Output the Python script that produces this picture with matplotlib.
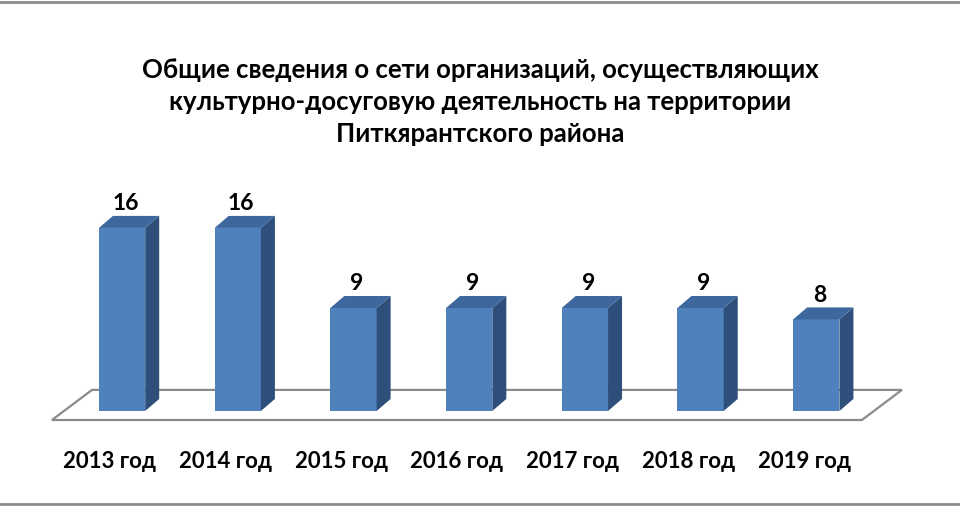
import matplotlib
matplotlib.use("Agg")
import matplotlib.pyplot as plt
from matplotlib.patches import Polygon
from matplotlib.lines import Line2D

years = ["2013 год", "2014 год", "2015 год", "2016 год", "2017 год", "2018 год", "2019 год"]
counts = [16, 16, 9, 9, 9, 9, 8]
title = ("Общие сведения о сети организаций, осуществляющих\n"
         "культурно-досуговую деятельность на территории\n"
         "Питкярантского района")

plt.rcParams['font.family'] = ['Lato', 'DejaVu Sans']

front_c = "#4F81BD"
top_c = "#3D679D"
side_c = "#2E4F7A"

# pseudo-3D geometry (in data units)
bar_off = 0.406      # bar front-left inside slot
bar_w = 0.40
dx, dy = 0.121, 1.05  # bar depth
floor_front, floor_back, floor_shift = -0.79, 1.84, 0.346

fig = plt.figure(figsize=(9.6, 5.1), dpi=100)
ax = fig.add_axes([0, 0, 1, 1])
ax.set_xlim(-0.449, 7.848)
ax.set_ylim(-8.57, 36.01)
ax.axis("off")

n = len(counts)
floor = Polygon([(0, floor_front), (n, floor_front),
                 (n + floor_shift, floor_back), (floor_shift, floor_back)],
                closed=True, facecolor="white", edgecolor="#8A8A8A", lw=1.6, zorder=1)
ax.add_patch(floor)

for i, (lab, v) in enumerate(zip(years, counts)):
    x0 = i + bar_off
    x1 = x0 + bar_w
    ax.add_patch(Polygon([(x0, 0), (x1, 0), (x1, v), (x0, v)],
                         facecolor=front_c, edgecolor="none", zorder=3))
    ax.add_patch(Polygon([(x1, 0), (x1 + dx, dy), (x1 + dx, v + dy), (x1, v)],
                         facecolor=side_c, edgecolor="none", zorder=3))
    ax.add_patch(Polygon([(x0, v), (x1, v), (x1 + dx, v + dy), (x0 + dx, v + dy)],
                         facecolor=top_c, edgecolor="none", zorder=3))
    ax.annotate(str(v), (x0 + (bar_w + dx) / 2 - 0.03, v + dy), xytext=(0, 2),
                textcoords="offset points", ha="center", va="bottom",
                fontsize=16.5, fontweight="bold", color="black")
    ax.text(i + 0.5, -4.37, lab, ha="center", va="center",
            fontsize=16, fontweight="bold", color="black")

fig.text(0.5, 0.80, title, ha="center", va="center", fontsize=18.5,
         fontweight="bold", linespacing=1.42)

fig.add_artist(Line2D([0, 1], [0.995, 0.995], color="#8C8C8C", lw=2))
fig.add_artist(Line2D([0, 1], [0.01, 0.01], color="#8C8C8C", lw=2))

fig.savefig("out.png", dpi=100)
